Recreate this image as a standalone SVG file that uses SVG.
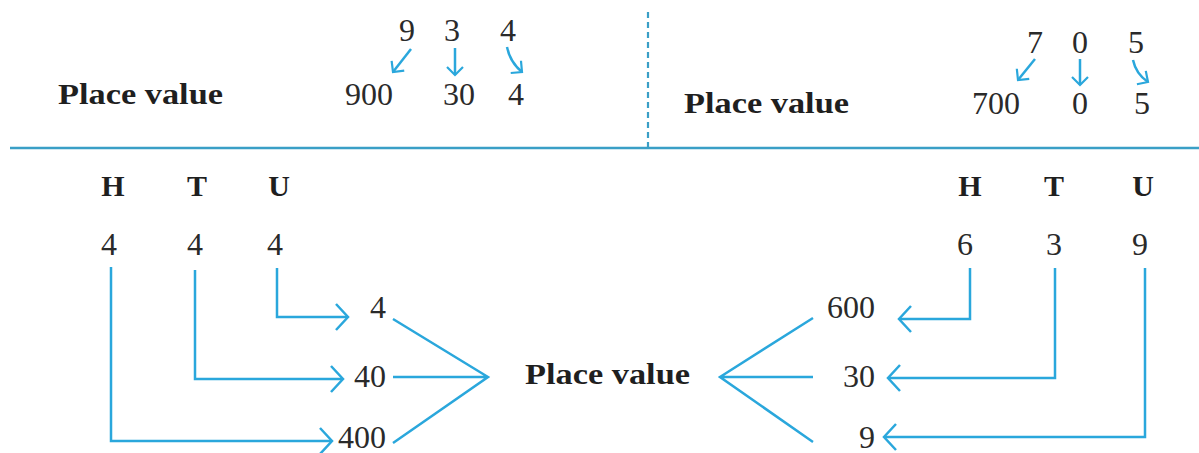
<svg xmlns="http://www.w3.org/2000/svg" width="1199" height="453" viewBox="0 0 1199 453">
<style>
.t{font-family:"Liberation Serif","Times New Roman",serif;font-size:32px;fill:#2a2a2a}
.b{font-family:"Liberation Serif","Times New Roman",serif;font-size:30px;font-weight:bold;fill:#1f1f1f}
.c{fill:none;stroke:#2aa7dc;stroke-width:2.5;stroke-linejoin:miter}
</style>
<defs>
<marker id="ah" markerUnits="userSpaceOnUse" markerWidth="30" markerHeight="30" viewBox="-15 -15 30 30" refX="0" refY="0" orient="auto" overflow="visible">
<path d="M-12,-13 L0,0 L-12,13" fill="none" stroke="#2aa7dc" stroke-width="2.5"/>
</marker>
<marker id="as" markerUnits="userSpaceOnUse" markerWidth="20" markerHeight="20" viewBox="-10 -10 20 20" refX="0" refY="0" orient="auto" overflow="visible">
<path d="M-8,-8 L0,0 L-8,8" fill="none" stroke="#2aa7dc" stroke-width="2.2"/>
</marker>
</defs>
<rect width="1199" height="453" fill="#ffffff"/>
<g id="rules">
<line x1="10" y1="148" x2="1199" y2="148" stroke="#3a9fc6" stroke-width="2.5"/>
<line x1="648" y1="12" x2="648" y2="148" stroke="#3a9fc6" stroke-width="2.2" stroke-dasharray="6,4"/>
</g>
<g id="top-left">
<text class="b" x="58" y="104" textLength="165" lengthAdjust="spacingAndGlyphs">Place value</text>
<text class="t" x="407" y="41" text-anchor="middle">9</text>
<text class="t" x="452" y="41" text-anchor="middle">3</text>
<text class="t" x="508" y="41" text-anchor="middle">4</text>
<text class="t" x="369" y="105" text-anchor="middle">900</text>
<text class="t" x="459" y="105" text-anchor="middle">30</text>
<text class="t" x="516" y="105" text-anchor="middle">4</text>
</g>
<g id="top-right">
<text class="b" x="684" y="113" textLength="165" lengthAdjust="spacingAndGlyphs">Place value</text>
<text class="t" x="1035" y="53" text-anchor="middle">7</text>
<text class="t" x="1080" y="53" text-anchor="middle">0</text>
<text class="t" x="1136" y="53" text-anchor="middle">5</text>
<text class="t" x="996" y="114" text-anchor="middle">700</text>
<text class="t" x="1080" y="114" text-anchor="middle">0</text>
<text class="t" x="1142" y="114" text-anchor="middle">5</text>
</g>
<g id="left-htu">
<text class="b" x="113" y="196" text-anchor="middle">H</text>
<text class="b" x="197" y="196" text-anchor="middle">T</text>
<text class="b" x="279" y="196" text-anchor="middle">U</text>
<text class="t" x="109" y="255" text-anchor="middle">4</text>
<text class="t" x="195" y="255" text-anchor="middle">4</text>
<text class="t" x="275" y="255" text-anchor="middle">4</text>
<text class="t" x="386" y="318" text-anchor="end">4</text>
<text class="t" x="386" y="387" text-anchor="end">40</text>
<text class="t" x="386" y="448" text-anchor="end">400</text>
</g>
<g id="center">
<text class="b" x="525" y="384" textLength="165" lengthAdjust="spacingAndGlyphs">Place value</text>
</g>
<g id="right-htu">
<text class="b" x="970" y="196" text-anchor="middle">H</text>
<text class="b" x="1054" y="196" text-anchor="middle">T</text>
<text class="b" x="1143" y="196" text-anchor="middle">U</text>
<text class="t" x="965" y="255" text-anchor="middle">6</text>
<text class="t" x="1054" y="255" text-anchor="middle">3</text>
<text class="t" x="1140" y="255" text-anchor="middle">9</text>
<text class="t" x="875" y="318" text-anchor="end">600</text>
<text class="t" x="875" y="387" text-anchor="end">30</text>
<text class="t" x="875" y="448" text-anchor="end">9</text>
</g>
<g id="connectors" class="c">
<path d="M411,49 L393,72" marker-end="url(#as)"/>
<path d="M455,48 L455,75" marker-end="url(#as)"/>
<path d="M507,47 Q510,62 522,72" marker-end="url(#as)"/>
<path d="M1035,59 L1018,80" marker-end="url(#as)"/>
<path d="M1080,59 L1080,85" marker-end="url(#as)"/>
<path d="M1133,60 Q1136,74 1148,82" marker-end="url(#as)"/>
<path d="M277,268 L277,317 L348,317" marker-end="url(#ah)"/>
<path d="M195,270 L195,379 L343,379" marker-end="url(#ah)"/>
<path d="M111,267 L111,441 L332,441" marker-end="url(#ah)"/>
<path d="M393,319 L488,377 L393,443 M393,377 L488,377"/>
<path d="M970,268 L970,319 L899,319" marker-end="url(#ah)"/>
<path d="M1055,268 L1055,378 L888,378" marker-end="url(#ah)"/>
<path d="M1145,268 L1145,437 L884,437" marker-end="url(#ah)"/>
<path d="M813,318 L720,377 L813,442 M720,377 L813,377"/>
</g>
</svg>
